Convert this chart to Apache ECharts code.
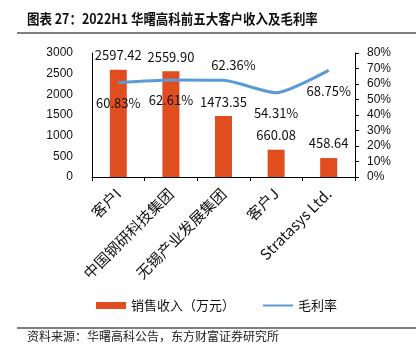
<!DOCTYPE html>
<html><head><meta charset="utf-8">
<script src="https://cdn.jsdelivr.net/npm/echarts@6/dist/echarts.min.js"></script>
<style>html,body{margin:0;padding:0;background:#fff}#c{width:418px;height:357px}</style>
</head><body><div id="c"></div>
<script>
var categories = ['客户I', '中国钢研科技集团', '无锡产业发展集团', '客户J', 'Stratasys Ltd.'];
var revenue = [2597.42, 2559.90, 1473.35, 660.08, 458.64];
var margin = [60.83, 62.61, 62.36, 54.31, 68.75];
var leftTicks = {min: 0, max: 3000, interval: 500};
var rightTicks = {min: 0, max: 80, interval: 10};
var titleText = '图表 27：2022H1 华曙高科前五大客户收入及毛利率';
var sourceText = '资料来源：华曙高科公告，东方财富证券研究所';

var cjk = '"Noto Sans CJK SC", sans-serif';
var chart = echarts.init(document.getElementById('c'), null, {renderer: 'canvas'});
var marginLabelPos = ['bottom', 'bottom', 'top', 'bottom', 'bottom'];
var marginLabelOffset = [[0, 0], [0, 0], [10, 5], [0, 0], [0, 0]];
chart.setOption({
  animation: false,
  grid: {left: 92, right: 63, top: 53, bottom: 180, containLabel: false},
  graphic: [
    {type: 'text', x: 27, y: 12, scaleX: 0.89, style: {text: titleText, font: 'bold 14px ' + cjk, fill: '#111'}},
    {type: 'line', shape: {x1: 17, y1: 33, x2: 416, y2: 33}, style: {stroke: '#7f7f7f', lineWidth: 2}},
    {type: 'line', shape: {x1: 17, y1: 328, x2: 416, y2: 328}, style: {stroke: '#555', lineWidth: 1.5}},
    {type: 'text', left: 27, top: 330, style: {text: sourceText, font: '12px ' + cjk, fill: '#222'}}
  ],
  legend: {
    left: 96, top: 299, padding: 0, itemWidth: 30, itemHeight: 7, itemGap: 27,
    textStyle: {fontFamily: cjk, fontSize: 13, color: '#111'},
    data: [{name: '销售收入（万元）', icon: 'rect'}, {name: '毛利率'}]
  },
  xAxis: {
    type: 'category', data: categories,
    axisLine: {lineStyle: {color: '#000', width: 1}},
    axisTick: {show: true, length: 4, lineStyle: {color: '#000'}},
    axisLabel: {rotate: 45, margin: 14, fontFamily: cjk, fontSize: 15, color: '#111', interval: 0}
  },
  yAxis: [
    {type: 'value', min: leftTicks.min, max: leftTicks.max, interval: leftTicks.interval,
     splitLine: {show: false},
     axisLine: {show: true, lineStyle: {color: '#000'}},
     axisTick: {show: false},
     axisLabel: {margin: 19, formatter: function (v) { return String(v); },
                 fontFamily: 'Liberation Sans, Arial', fontSize: 12, color: '#111'}},
    {type: 'value', min: rightTicks.min, max: rightTicks.max, interval: rightTicks.interval,
     splitLine: {show: false},
     axisLine: {show: true, lineStyle: {color: '#000'}},
     axisTick: {show: true, length: 4, lineStyle: {color: '#000'}},
     axisLabel: {margin: 12, formatter: '{value}%', fontFamily: 'Liberation Sans, Arial', fontSize: 12, color: '#111'}}
  ],
  series: [
    {name: '销售收入（万元）', type: 'bar', yAxisIndex: 0, barWidth: 17,
     itemStyle: {color: '#E04E1F'},
     data: revenue,
     label: {show: true, position: 'top', distance: 8, fontFamily: cjk, fontSize: 13, color: '#111',
             formatter: function (p) { return p.value.toFixed(2); }}},
    {name: '毛利率', type: 'line', yAxisIndex: 1, symbol: 'circle', symbolSize: 4, showSymbol: true,
     smooth: 0.2,
     lineStyle: {color: '#5B9BD5', width: 3}, itemStyle: {color: 'rgba(0,0,0,0)', borderWidth: 0},
     emphasis: {disabled: true},
     label: {show: true, fontFamily: cjk, fontSize: 13, color: '#111', distance: 12,
             formatter: function (p) { return p.value.toFixed(2) + '%'; }},
     data: margin.map(function (v, i) {
       return {value: v, label: {position: marginLabelPos[i], offset: marginLabelOffset[i]}};
     })}
  ]
});
</script></body></html>
